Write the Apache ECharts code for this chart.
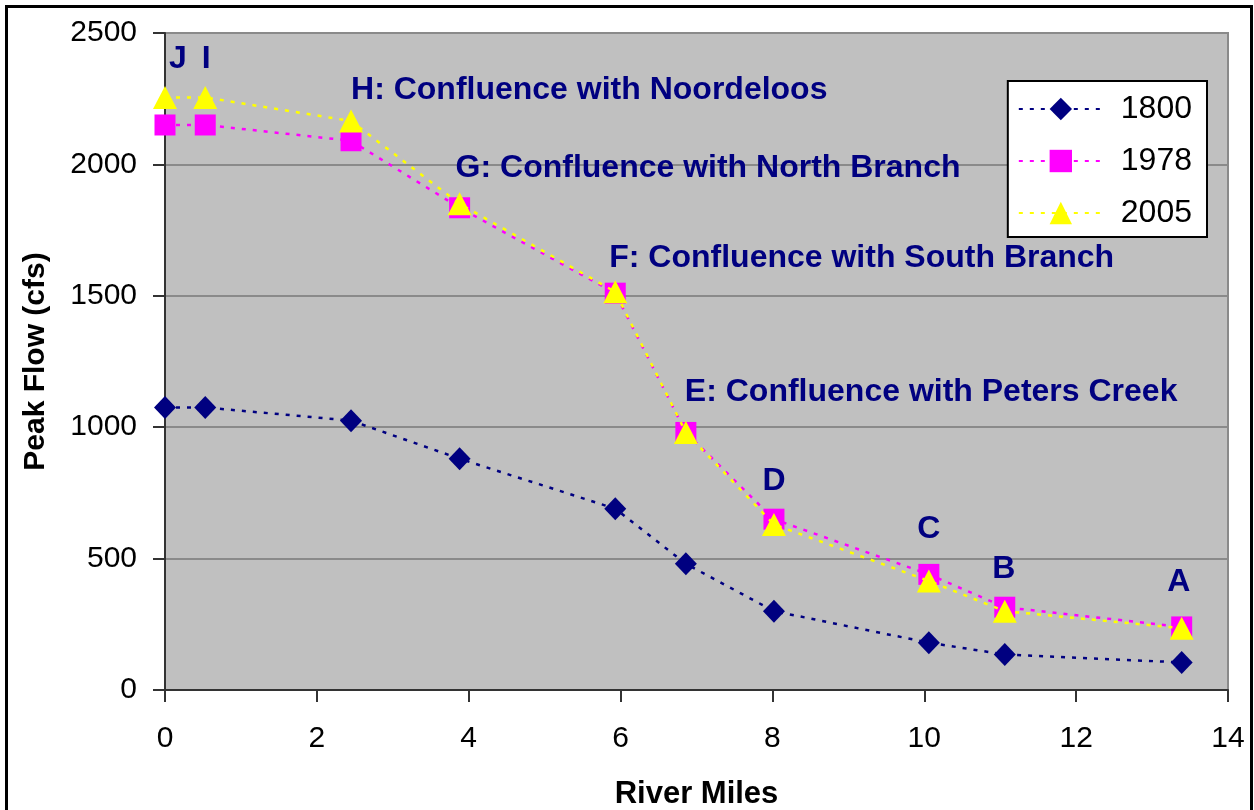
<!DOCTYPE html>
<html>
<head>
<meta charset="utf-8">
<script src="https://cdn.jsdelivr.net/npm/echarts@6/dist/echarts.min.js"></script>
<style>
  html, body { margin: 0; padding: 0; background: #fff; }
  #chart { position: absolute; left: 0; top: 0; width: 1254px; height: 810px; }
  #frame { position: absolute; left: 5px; top: 5px; width: 1242px; height: 900px; border: 3px solid #000; pointer-events: none; }
</style>
</head>
<body>
<div id="chart"></div>
<div id="frame"></div>
<script>
// River miles of each site (A..J reversed order along river)
const miles = [0, 0.53, 2.45, 3.88, 5.93, 6.86, 8.02, 10.06, 11.06, 13.39];
const flow1800 = [1075, 1075, 1025, 880, 690, 480, 300, 180, 135, 105];
const flow1978 = [2150, 2150, 2090, 1835, 1510, 980, 650, 440, 315, 240];
const flow2005 = [2255, 2255, 2165, 1850, 1515, 980, 630, 415, 300, 235];
const siteLabels = ['J', 'I', 'H: Confluence with Noordeloos', 'G: Confluence with North Branch',
  'F: Confluence with South Branch', 'E: Confluence with Peters Creek', 'D', 'C', 'B', 'A'];
const seriesNames = ['1800', '1978', '2005'];
const yTicks = [0, 500, 1000, 1500, 2000, 2500];
const xTicks = [0, 2, 4, 6, 8, 10, 12, 14];

// label placement relative to the 2005 marker centre (style only)
const labelStyle = [
  { align: 'center', offset: [13, -38] },
  { align: 'center', offset: [1, -38] },
  { align: 'left', offset: [0, -31] },
  { align: 'left', offset: [-4, -36] },
  { align: 'left', offset: [-6, -34] },
  { align: 'left', offset: [-1, -40] },
  { align: 'center', offset: [0, -43] },
  { align: 'center', offset: [0, -52] },
  { align: 'center', offset: [-1, -42] },
  { align: 'center', offset: [-3, -46] }
];

const pairs = arr => miles.map((m, i) => [m, arr[i]]);

const chart = echarts.init(document.getElementById('chart'), null, { renderer: 'canvas' });
const FONT = 'Liberation Sans, Arial, sans-serif';
const dash = [4, 7];
const triSize = [24, 23];

const option = {
  animation: false,
  textStyle: { fontFamily: FONT },
  grid: {
    left: 165, right: 26, top: 33, bottom: 120,
    outerBoundsMode: 'none', containLabel: false,
    show: true, backgroundColor: '#C0C0C0', borderColor: '#8a8a8a', borderWidth: 2
  },
  legend: {
    right: 47, top: 81, orient: 'vertical',
    data: seriesNames,
    backgroundColor: '#fff', borderColor: '#000', borderWidth: 2,
    padding: [12, 15, 8, 10],
    itemWidth: 84, itemHeight: 28, itemGap: 20,
    textStyle: { fontSize: 32, color: '#000', fontFamily: FONT, padding: [0, 0, 0, 13] }
  },
  xAxis: {
    type: 'value', min: 0, max: 14, interval: 2,
    axisLine: { show: true, onZero: false, lineStyle: { color: '#333', width: 2 } },
    axisTick: { show: true, length: 12, inside: false, lineStyle: { color: '#333', width: 2 } },
    axisLabel: { fontSize: 30, color: '#000', margin: 34, fontFamily: FONT,
      formatter: v => xTicks.includes(v) ? String(v) : '' },
    splitLine: { show: false },
    name: 'River Miles', nameLocation: 'middle', nameGap: 89,
    nameTextStyle: { fontSize: 31, fontWeight: 'bold', color: '#000', fontFamily: FONT }
  },
  yAxis: {
    type: 'value', min: 0, max: 2500, interval: 500,
    axisLine: { show: true, lineStyle: { color: '#333', width: 2 } },
    axisTick: { show: true, length: 12, lineStyle: { color: '#333', width: 2 } },
    axisLabel: { fontSize: 30, color: '#000', margin: 28, fontFamily: FONT,
      formatter: v => yTicks.includes(v) ? String(v) : '' },
    splitLine: { show: true, lineStyle: { color: '#8a8a8a', width: 2 } },
    name: 'Peak Flow (cfs)', nameLocation: 'middle', nameGap: 114, nameRotate: 90,
    nameTextStyle: { fontSize: 30, fontWeight: 'bold', color: '#000', fontFamily: FONT }
  },
  series: [
    {
      name: seriesNames[0], type: 'line', data: pairs(flow1800),
      symbol: 'diamond', symbolSize: [22, 23],
      itemStyle: { color: '#000080' },
      lineStyle: { color: '#000080', width: 2.5, type: dash },
      z: 2
    },
    {
      name: seriesNames[1], type: 'line', data: pairs(flow1978),
      symbol: 'rect', symbolSize: 21,
      itemStyle: { color: '#FF00FF' },
      lineStyle: { color: '#FF00FF', width: 2.5, type: dash },
      z: 3
    },
    {
      name: seriesNames[2], type: 'line',
      data: pairs(flow2005).map((p, i) => ({
        value: p,
        label: {
          show: true, formatter: siteLabels[i],
          position: [triSize[0] / 2 + labelStyle[i].offset[0], triSize[1] / 2 + labelStyle[i].offset[1]],
          align: labelStyle[i].align, verticalAlign: 'middle',
          fontSize: 32, fontWeight: 'bold', color: '#000080', fontFamily: FONT
        }
      })),
      symbol: 'triangle', symbolSize: triSize,
      itemStyle: { color: '#FFFF00' },
      lineStyle: { color: '#FFFF00', width: 2.5, type: dash },
      labelLayout: { hideOverlap: false },
      z: 4
    }
  ]
};
chart.setOption(option);
</script>
</body>
</html>
